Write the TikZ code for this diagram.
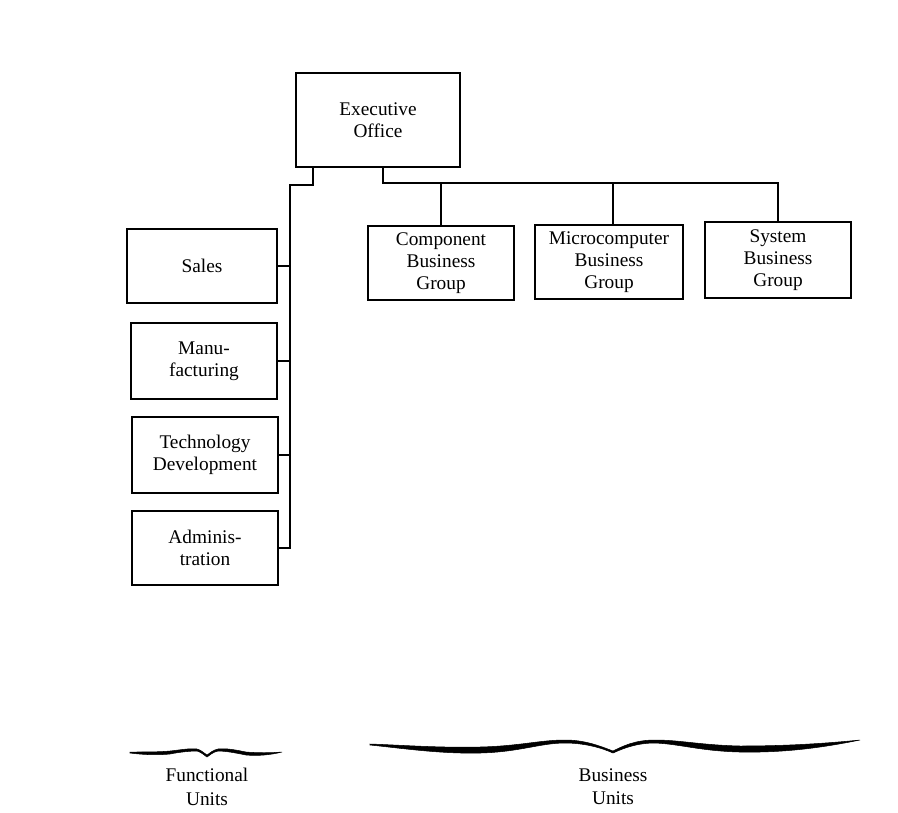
\documentclass[tikz,border=0pt]{standalone}
\usepackage{fontspec}
\setmainfont{Liberation Serif}
\usepackage{tikz}

\tikzset{
    unitbox/.style={draw, line width=0.04cm, align=center, inner sep=2pt,
        font=\fontsize{11}{12.5}\selectfont},
    link/.style={line width=0.04cm},
    unitbrace/.style={fill=black, draw=black, line width=0.3pt},
    unitlabel/.style={align=center, anchor=north, font=\fontsize{11}{13.5}\selectfont}
}

\begin{document}
\begin{tikzpicture}[x=0.02cm, y=-0.02cm]

    \useasboundingbox (0,0) rectangle (898,812);

    % ==========================================
    % TOP: Executive Office
    % ==========================================
    \node[unitbox, minimum width=164*0.02cm, minimum height=94*0.02cm] (exec) at (378,120) {Executive\\Office};

    % ==========================================
    % LEFT COLUMN: Functional units
    % ==========================================
    \node[unitbox, minimum width=150*0.02cm, minimum height=74*0.02cm] (sales) at (202,266) {Sales};
    \node[unitbox, minimum width=146*0.02cm, minimum height=76*0.02cm] (manu) at (204,361) {Manu-\\facturing};
    \node[unitbox, minimum width=146*0.02cm, minimum height=76*0.02cm] (tech) at (205,455) {Technology\\Development};
    \node[unitbox, minimum width=146*0.02cm, minimum height=74*0.02cm] (admin) at (205,548) {Adminis-\\tration};

    % ==========================================
    % RIGHT ROW: Business units
    % ==========================================
    \node[unitbox, minimum width=146*0.02cm, minimum height=74*0.02cm] (comp) at (441,263) {Component\\Business\\Group};
    \node[unitbox, minimum width=148*0.02cm, minimum height=74*0.02cm] (micro) at (609,262) {Microcomputer\\Business\\Group};
    \node[unitbox, minimum width=146*0.02cm, minimum height=76*0.02cm] (sys) at (778,260) {System\\Business\\Group};

    % ==========================================
    % CONNECTORS
    % ==========================================
    \coordinate (spinetop) at (290,185);
    \coordinate (bus) at (383,183);

    % Executive -> functional spine
    \draw[link] (exec.south -| 313,0) |- (spinetop) -- (spinetop |- admin.east) -- (admin.east);
    \draw[link] (sales.east) -- (sales.east -| spinetop);
    \draw[link] (manu.east) -- (manu.east -| spinetop);
    \draw[link] (tech.east) -- (tech.east -| spinetop);

    % Executive -> business bus
    \draw[link] (exec.south -| bus) -- (bus) -| (sys.north);
    \draw[link] (comp.north) -- (comp.north |- bus);
    \draw[link] (micro.north -| 613,0) -- (bus -| 613,0);

    % ==========================================
    % BOTTOM: Braces and labels
    % ==========================================
    % Functional units brace
    \filldraw[unitbrace] (130,752) .. controls (145,752) and (160,752) .. (170,751)
        .. controls (180,750) and (190,748) .. (197,749)
        .. controls (201,750) and (204,753) .. (207,755)
        .. controls (210,753) and (213,750) .. (218,749)
        .. controls (226,748) and (236,750) .. (246,752)
        .. controls (258,753) and (270,753) .. (282,752)
        .. controls (270,755) and (258,756) .. (246,755)
        .. controls (236,753) and (226,751) .. (218,751)
        .. controls (213,752) and (210,755) .. (207,757)
        .. controls (204,755) and (201,752) .. (197,751)
        .. controls (190,751) and (180,752) .. (170,754)
        .. controls (160,755) and (145,755) .. (130,753) -- cycle;

    % Business units brace
    \filldraw[unitbrace] (370,744) .. controls (400,745) and (440,748) .. (480,747)
        .. controls (520,746) and (540,740) .. (565,740)
        .. controls (585,740) and (600,746) .. (613,751)
        .. controls (623,746) and (635,740) .. (655,740)
        .. controls (680,740) and (700,745) .. (740,746)
        .. controls (790,746) and (830,743) .. (860,740)
        .. controls (830,746) and (790,753) .. (740,752)
        .. controls (700,751) and (680,744) .. (655,743)
        .. controls (637,743) and (624,748) .. (613,753)
        .. controls (602,748) and (585,743) .. (565,743)
        .. controls (540,743) and (520,752) .. (480,753)
        .. controls (440,754) and (400,748) .. (370,745) -- cycle;

    \node[unitlabel] (funclabel) at (207,762) {Functional\\Units};
    \node[unitlabel] (buslabel) at (613,762) {Business\\Units};

\end{tikzpicture}
\end{document}
